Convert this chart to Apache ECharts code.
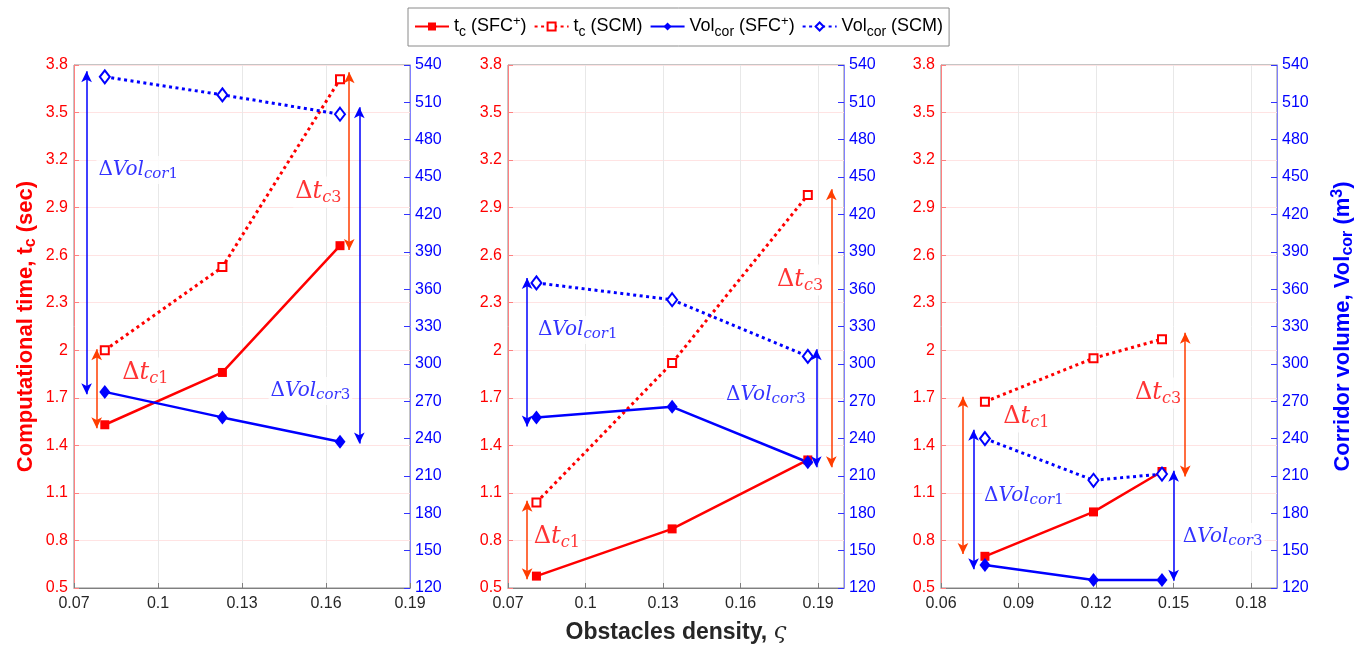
<!DOCTYPE html>
<html><head><meta charset="utf-8">
<script src="https://cdn.jsdelivr.net/npm/echarts@6/dist/echarts.min.js"></script>
<style>html,body{margin:0;padding:0;background:#fff}#c{width:1372px;height:645px}</style>
</head><body><div id="c"></div>
<script>
// ---- data ----
const xValues = [[0.081,0.123,0.165],[0.081,0.1335,0.186],[0.077,0.119,0.1455]];
const tcSFC  = [[1.53,1.86,2.66],[0.575,0.873,1.308],[0.70,0.98,1.235]];
const tcSCM  = [[2.00,2.525,3.71],[1.04,1.92,2.98],[1.675,1.95,2.07]];
const volSFC = [[277.5,257,237.5],[257,265.5,221],[138.5,126.5,126.5]];
const volSCM = [[530.5,516,500.5],[365,351.5,306],[240,206.5,211.5]];
const xMin = [0.07,0.07,0.06];
const xMax = [0.19,0.2,0.19];
const xInterval = 0.03;
const tcTickMin = 0.5, tcTickMax = 3.8, tcTickStep = 0.3;
const volTickMin = 120, volTickMax = 540, volTickStep = 30;
// double-headed arrows: [x, yFrom, yTo]
const tcArrows = [
  [[0.0781,2.006,1.508],[0.1683,3.754,2.633]],
  [[0.0774,1.051,0.555],[0.1951,3.016,1.262]],
  [[0.0685,1.707,0.715],[0.1545,2.111,1.203]]
];
const volArrows = [
  [[0.0745,535,275.5],[0.1719,506,236]],
  [[0.0774,369,249.6],[0.1893,311.7,217]],
  [[0.0726,247,135],[0.150,214.2,125.9]]
];
// annotation labels: [key, x, tc-axis y]
const annoLabels = [
  [['vol1',0.0780,3.137],['tc3',0.1483,2.999],['tc1',0.0865,1.857],['vol3',0.1395,1.743]],
  [['vol1',0.0808,2.128],['tc3',0.1733,2.443],['vol3',0.1536,1.718],['tc1',0.0792,0.822]],
  [['tc1',0.0833,1.579],['tc3',0.1343,1.730],['vol1',0.0759,1.080],['vol3',0.1528,0.822]]
];
const seriesNames = ['tc_SFC','tc_SCM','vol_SFC','vol_SCM'];
const legendLabels = ['t{sub|c} (SFC{sup|+})','t{sub|c} (SCM)','Vol{sub|cor} (SFC{sup|+})','Vol{sub|cor} (SCM)'];
const annoText = {
  tc1: '{dr|Δ}{ir|t}{sr|c}{nr|1}',
  tc3: '{dr|Δ}{ir|t}{sr|c}{nr|3}',
  vol1: '{db|Δ}{ib|Vol}{sb|cor}{nb|1}',
  vol3: '{db|Δ}{ib|Vol}{sb|cor}{nb|3}'
};

// ---- styles ----
const RED = '#ff0000', BLUE = '#0000ff', ARROW_RED = '#ff3d00';
const FONT = 'Liberation Sans';
const SERIF = 'DejaVu Serif';
const gridLefts = [74, 508, 941];

const grids = [], xAxes = [], yAxes = [], series = [];
for (let i = 0; i < 3; i++) {
  grids.push({left: gridLefts[i], top: 65, width: 336, height: 523, show: true,
    borderColor: '#8a8a8a', borderWidth: 1, backgroundColor: '#fff', containLabel: false,
    outerBoundsMode: 'none'});
  xAxes.push({
    type: 'value', gridIndex: i, min: xMin[i], max: xMax[i], interval: xInterval,
    axisLine: {show: true, lineStyle: {color: '#7f7f7f', width: 1}},
    axisTick: {show: true, inside: true, length: 5, lineStyle: {color: '#7f7f7f'}},
    axisLabel: {color: '#262626', fontSize: 16, fontFamily: FONT, margin: 8,
      showMaxLabel: i === 0, showMinLabel: true},
    splitLine: {show: true, lineStyle: {color: '#e8e8e8', width: 1}},
    name: i === 1 ? 'Obstacles density, {s|ς}' : '',
    nameLocation: 'middle', nameGap: 33,
    nameTextStyle: {fontSize: 23, fontWeight: 'bold', color: '#262626', fontFamily: FONT,
      rich: {s: {fontFamily: SERIF, fontStyle: 'italic', fontSize: 23, fontWeight: 'normal', color: '#262626'}}}
  });
  yAxes.push({
    type: 'value', gridIndex: i, position: 'left', min: tcTickMin, max: tcTickMax, interval: tcTickStep,
    axisLine: {show: true, lineStyle: {color: '#ff8080', width: 1}},
    axisTick: {show: true, inside: true, length: 5, lineStyle: {color: '#ff8080'}},
    axisLabel: {color: RED, fontSize: 16, fontFamily: FONT, margin: 6},
    splitLine: {show: true, lineStyle: {color: '#ffe3e3', width: 1}},
    name: i === 0 ? 'Computational time, t{sub|c} (sec)' : '',
    nameLocation: 'middle', nameRotate: 90, nameGap: 35,
    nameTextStyle: {fontSize: 22, fontWeight: 'bold', color: RED, fontFamily: FONT,
      rich: {sub: {fontSize: 16, fontWeight: 'bold', color: RED, fontFamily: FONT, padding: [10,0,0,0]}}}
  });
  yAxes.push({
    type: 'value', gridIndex: i, position: 'right', min: volTickMin, max: volTickMax, interval: volTickStep,
    axisLine: {show: true, lineStyle: {color: '#8080ff', width: 1}},
    axisTick: {show: true, inside: true, length: 6, lineStyle: {color: '#3333ff'}},
    axisLabel: {color: BLUE, fontSize: 16, fontFamily: FONT, margin: 5},
    splitLine: {show: false},
    name: i === 2 ? 'Corridor volume, Vol{sub|cor} (m{sup|3})' : '',
    nameLocation: 'middle', nameRotate: 90, nameGap: 53,
    nameTextStyle: {fontSize: 22, fontWeight: 'bold', color: BLUE, fontFamily: FONT,
      rich: {sub: {fontSize: 16, fontWeight: 'bold', color: BLUE, fontFamily: FONT, padding: [10,0,0,0]},
             sup: {fontSize: 16, fontWeight: 'bold', color: BLUE, fontFamily: FONT, padding: [0,0,10,0]}}}
  });

  const pts = (ys) => xValues[i].map((x, k) => [x, ys[k]]);
  const arrowML = (list, color) => ({
    silent: true, symbol: ['arrow','arrow'], symbolSize: [8, 11],
    label: {show: false}, emphasis: {disabled: true},
    lineStyle: {color: color, width: 1.5, type: 'solid'},
    data: list.map(a => [{coord: [a[0], a[1]]}, {coord: [a[0], a[2]]}])
  });
  series.push({
    name: seriesNames[0], type: 'line', xAxisIndex: i, yAxisIndex: 2*i, data: pts(tcSFC[i]),
    symbol: 'rect', symbolSize: 9, z: 4,
    lineStyle: {color: RED, width: 2.5}, itemStyle: {color: RED}
  });
  series.push({
    name: seriesNames[1], type: 'line', xAxisIndex: i, yAxisIndex: 2*i, data: pts(tcSCM[i]),
    symbol: 'emptyRect', symbolSize: 8, z: 4,
    lineStyle: {color: RED, width: 3, type: [3, 3.5]}, itemStyle: {color: RED, borderWidth: 2},
    markLine: arrowML(tcArrows[i], ARROW_RED)
  });
  series.push({
    name: seriesNames[2], type: 'line', xAxisIndex: i, yAxisIndex: 2*i+1, data: pts(volSFC[i]),
    symbol: 'diamond', symbolSize: [11, 14], z: 4,
    lineStyle: {color: BLUE, width: 2.5}, itemStyle: {color: BLUE}
  });
  series.push({
    name: seriesNames[3], type: 'line', xAxisIndex: i, yAxisIndex: 2*i+1, data: pts(volSCM[i]),
    symbol: 'emptyDiamond', symbolSize: [10, 13], z: 4,
    lineStyle: {color: BLUE, width: 3, type: [3, 3.5]}, itemStyle: {color: BLUE, borderWidth: 2},
    markLine: arrowML(volArrows[i], BLUE)
  });
  series.push({
    type: 'scatter', xAxisIndex: i, yAxisIndex: 2*i, symbolSize: 0, silent: true, z: 1,
    data: annoLabels[i].map(a => [a[1], a[2], a[0]]),
    label: {
      show: true, position: 'right', distance: 0, backgroundColor: '#fff', padding: [2, 2],
      formatter: p => annoText[p.value[2]],
      rich: {
        dr: {fontFamily: SERIF, fontSize: 24, color: RED},
        ir: {fontFamily: SERIF, fontStyle: 'italic', fontSize: 24, color: RED},
        sr: {fontFamily: SERIF, fontStyle: 'italic', fontSize: 16, color: RED, padding: [11,0,0,0]},
        nr: {fontFamily: SERIF, fontSize: 16, color: RED, padding: [11,0,0,0]},
        db: {fontFamily: SERIF, fontSize: 20, color: BLUE},
        ib: {fontFamily: SERIF, fontStyle: 'italic', fontSize: 20, color: BLUE},
        sb: {fontFamily: SERIF, fontStyle: 'italic', fontSize: 15, color: BLUE, padding: [9,0,0,0]},
        nb: {fontFamily: SERIF, fontSize: 15, color: BLUE, padding: [9,0,0,0]}
      }
    }
  });
}

const chart = echarts.init(document.getElementById('c'), null, {renderer: 'canvas'});
chart.setOption({
  animation: false,
  backgroundColor: '#fff',
  legend: {
    data: seriesNames, left: 408, top: 8, orient: 'horizontal',
    backgroundColor: '#fff', borderColor: '#8a8a8a', borderWidth: 1, borderRadius: 0,
    padding: [7, 6], itemGap: 7, itemWidth: 34, itemHeight: 10,
    formatter: n => legendLabels[seriesNames.indexOf(n)],
    textStyle: {fontSize: 18, fontFamily: FONT, color: '#000',
      rich: {sub: {fontSize: 14, fontFamily: FONT, color: '#000', padding: [11,0,0,0]},
             sup: {fontSize: 13, fontFamily: FONT, color: '#000', padding: [0,0,10,0]}}}
  },
  grid: grids, xAxis: xAxes, yAxis: yAxes, series: series
});
</script></body></html>
